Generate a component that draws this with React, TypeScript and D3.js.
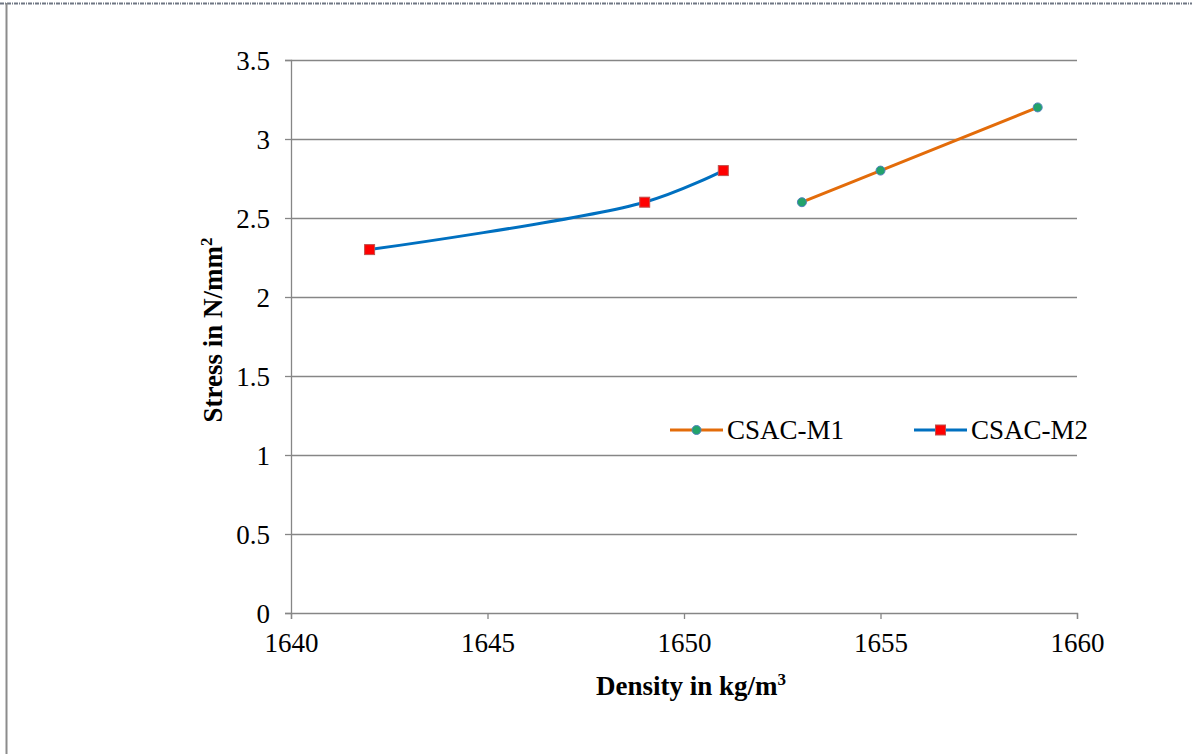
import React, { useEffect, useRef } from "react"
import * as d3 from "d3"

const m1Density = [1653, 1655, 1659]
const m1Stress = [2.6, 2.8, 3.2]
const m2Density = [1642, 1649, 1651]
const m2Stress = [2.3, 2.6, 2.8]
const xTicks = [1640, 1645, 1650, 1655, 1660]
const yTicks = [0, 0.5, 1, 1.5, 2, 2.5, 3, 3.5]
const seriesNames = ["CSAC-M1", "CSAC-M2"]

const W = 1192
const H = 754
const FONT = "'Liberation Serif', 'Times New Roman', serif"
const FS = 27

export default function App() {
  const ref = useRef<SVGSVGElement>(null)

  useEffect(() => {
    const svg = d3.select(ref.current)
    svg.selectAll("*").remove()

    const x = d3.scaleLinear().domain([1640, 1660]).range([291, 1077])
    const y = d3.scaleLinear().domain([0, 3.5]).range([613, 60])

    // outer frame
    svg.append("line").attr("x1", 0).attr("x2", W).attr("y1", 3.5).attr("y2", 3.5)
      .attr("stroke", "#6f7683").attr("stroke-width", 2).attr("stroke-dasharray", "4,1,1,1")
    svg.append("line").attr("x1", 6.5).attr("x2", 6.5).attr("y1", 3).attr("y2", H)
      .attr("stroke", "#8c8c8c").attr("stroke-width", 2)

    // gridlines
    svg.append("g").selectAll("line").data(yTicks.filter(d => d > 0)).enter().append("line")
      .attr("x1", x(1640)).attr("x2", x(1660))
      .attr("y1", d => Math.round(y(d)) + 0.5).attr("y2", d => Math.round(y(d)) + 0.5)
      .attr("stroke", "#868686").attr("stroke-width", 1.3)

    // y axis
    const yAxis = svg.append("g").attr("transform", `translate(${x(1640)},0)`)
      .call(d3.axisLeft(y).tickValues(yTicks).tickSize(6).tickPadding(15).tickFormat(d => String(d)))
    yAxis.attr("font-size", FS).attr("font-family", FONT)
    yAxis.select(".domain").attr("stroke", "#868686").attr("stroke-width", 1.3)
    yAxis.selectAll(".tick line").attr("stroke", "#868686").attr("stroke-width", 1.3)
    yAxis.selectAll("text").attr("fill", "#000").attr("dy", "0.34em")

    // x axis
    const xAxis = svg.append("g").attr("transform", `translate(0,${y(0)})`)
      .call(d3.axisBottom(x).tickValues(xTicks).tickSize(6).tickPadding(14).tickFormat(d => String(d)))
    xAxis.attr("font-size", FS).attr("font-family", FONT)
    xAxis.select(".domain").attr("stroke", "#868686").attr("stroke-width", 1.3)
    xAxis.selectAll(".tick line").attr("stroke", "#868686").attr("stroke-width", 1.3)
    xAxis.selectAll("text").attr("fill", "#000")

    // axis titles
    const yt = svg.append("text").attr("transform", `translate(222,330) rotate(-90)`)
      .attr("text-anchor", "middle").attr("font-family", FONT).attr("font-size", FS)
      .attr("font-weight", "bold")
    yt.append("tspan").text("Stress in N/mm")
    yt.append("tspan").text("2").attr("font-size", 17).attr("dy", -10)

    const xt = svg.append("text").attr("x", 691).attr("y", 695)
      .attr("text-anchor", "middle").attr("font-family", FONT).attr("font-size", FS)
      .attr("font-weight", "bold")
    xt.append("tspan").text("Density in kg/m")
    xt.append("tspan").text("3").attr("font-size", 17).attr("dy", -10)

    const line = d3.line<[number, number]>()
      .x(d => x(d[0])).y(d => y(d[1]))
      .curve(d3.curveCatmullRom.alpha(0.5))

    const m1 = m1Density.map((d, i) => [d, m1Stress[i]] as [number, number])
    const m2 = m2Density.map((d, i) => [d, m2Stress[i]] as [number, number])

    svg.append("path").datum(m1).attr("d", line).attr("fill", "none")
      .attr("stroke", "#e36c0a").attr("stroke-width", 3)
    svg.append("path").datum(m2).attr("d", line).attr("fill", "none")
      .attr("stroke", "#0070c0").attr("stroke-width", 3)

    const circle = (g: any, cx: number, cy: number) =>
      g.append("circle").attr("cx", cx).attr("cy", cy).attr("r", 4.5)
        .attr("fill", "#22a36b").attr("stroke", "#4f81bd").attr("stroke-width", 1)
    const square = (g: any, cx: number, cy: number) =>
      g.append("rect").attr("x", cx - 5).attr("y", cy - 5).attr("width", 10).attr("height", 10)
        .attr("fill", "#ff0000").attr("stroke", "#c0504d").attr("stroke-width", 1)

    m1.forEach(p => circle(svg, x(p[0]), y(p[1])))
    m2.forEach(p => square(svg, x(p[0]), y(p[1])))

    // legend
    const ly = 430
    const legend = [
      { x0: 670, color: "#e36c0a", marker: circle, name: seriesNames[0] },
      { x0: 914, color: "#0070c0", marker: square, name: seriesNames[1] },
    ]
    legend.forEach(l => {
      svg.append("line").attr("x1", l.x0).attr("x2", l.x0 + 53).attr("y1", ly).attr("y2", ly)
        .attr("stroke", l.color).attr("stroke-width", 3)
      l.marker(svg, l.x0 + 26.5, ly)
      svg.append("text").attr("x", l.x0 + 57).attr("y", ly + 9).attr("font-family", FONT)
        .attr("font-size", FS).attr("fill", "#000").text(l.name)
    })
  }, [])

  return (
    <svg ref={ref} width={W} height={H}
      style={{ position: "absolute", left: 0, top: 0, background: "#fff" }} />
  )
}
